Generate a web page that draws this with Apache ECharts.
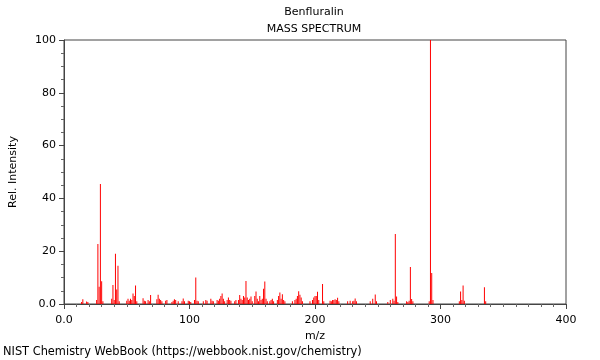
<!DOCTYPE html>
<html>
<head>
<meta charset="utf-8">
<script src="https://cdn.jsdelivr.net/npm/echarts@6/dist/echarts.min.js"></script>
<style>html,body{margin:0;padding:0;background:#fff}#c{width:600px;height:360px}</style>
</head>
<body>
<div id="c"></div>
<script>
const titleText = "Benfluralin";
const subtitleText = "MASS SPECTRUM";
const footerText = "NIST Chemistry WebBook (https://webbook.nist.gov/chemistry)";
const xName = "m/z";
const yName = "Rel. Intensity";

const mz = [14,15,18,19,26,27,28,29,30,31,38,39,40,41,42,43,44,50,51,52,53,54,55,56,57,58,
  63,64,65,67,68,69,74,75,76,77,78,81,82,86,87,88,89,91,94,95,96,99,100,101,104,105,106,107,
  111,113,114,117,118,119,122,123,124,125,126,127,128,130,131,132,133,136,137,139,140,141,142,
  143,144,145,146,147,148,149,150,152,153,154,155,156,157,158,159,160,161,162,164,165,166,167,
  170,171,172,173,174,175,176,182,184,185,186,187,188,189,190,196,198,199,200,201,202,203,206,
  207,212,213,214,215,216,217,218,219,226,228,230,231,232,233,244,246,248,249,258,260,262,263,
  264,265,266,273,274,275,276,277,278,291,292,293,294,315,316,317,318,319,335,336];
const intensity = [0.8,1.8,0.9,0.8,1.5,22.7,6.5,45.5,8.6,1.0,2.0,7.2,1.5,19.0,5.5,14.5,1.0,1.2,2.0,1.2,2.0,1.5,4.0,3.0,7.0,1.0,
  2.2,1.2,1.0,1.5,1.0,3.4,1.8,3.5,2.0,1.5,1.0,1.2,1.5,0.8,1.2,1.8,1.5,1.0,1.0,2.1,1.0,1.2,1.0,0.8,1.5,10.0,1.2,1.0,
  1.0,1.5,1.2,2.0,1.2,1.0,1.5,1.2,2.0,3.0,4.0,2.0,1.0,1.5,2.5,1.5,1.2,1.0,1.5,1.5,3.4,2.0,1.5,
  3.0,2.5,8.7,2.5,1.5,2.0,2.8,1.0,3.0,4.7,2.0,1.0,3.0,1.5,2.0,5.8,8.5,2.0,1.0,1.0,1.5,2.0,1.0,
  1.5,3.0,4.4,2.0,3.7,1.5,1.0,1.0,1.5,2.0,3.0,4.8,3.5,2.5,1.0,1.0,1.5,2.5,3.0,3.0,4.6,1.5,7.6,
  1.0,1.2,1.0,1.5,1.5,1.8,1.5,2.4,1.0,1.0,1.2,1.0,1.2,2.1,1.0,1.0,2.0,3.6,1.0,0.8,1.5,2.0,1.2,
  26.5,2.8,0.8,1.0,0.8,1.2,14.0,1.9,1.0,1.0,100,11.7,1.5,1.0,4.7,1.5,7.0,1.2,6.3,1.0];

const xMin = 0, xMax = 400, xStep = 100;
const yMin = 0, yMax = 100, yStep = 20;

const font = "DejaVu Sans";
const chart = echarts.init(document.getElementById('c'), null, {renderer: 'canvas'});
const fmt = v => v === 0 ? '0.0' : String(v);

chart.setOption({
  animation: false,
  textStyle: {fontFamily: font},
  tooltip: {show: false},
  grid: {left: 62, right: 34, top: 40, bottom: 56, show: true, borderColor: '#444', borderWidth: 1, backgroundColor: 'transparent'},
  xAxis: {
    type: 'value', min: xMin, max: xMax, interval: xStep,
    name: xName, nameLocation: 'middle', nameGap: 22,
    nameTextStyle: {fontFamily: font, fontSize: 11, color: '#000'},
    axisLine: {show: true, lineStyle: {color: '#444'}},
    axisTick: {show: true, length: 5, lineStyle: {color: '#444'}},
    minorTick: {show: true, splitNumber: 10, length: 3, lineStyle: {color: '#666'}},
    splitLine: {show: false},
    axisLabel: {formatter: fmt, fontFamily: font, fontSize: 11, color: '#000', margin: 11}
  },
  yAxis: {
    type: 'value', min: yMin, max: yMax, interval: yStep,
    name: yName, nameLocation: 'middle', nameGap: 45,
    nameTextStyle: {fontFamily: font, fontSize: 11, color: '#000'},
    axisLine: {show: true, lineStyle: {color: '#444'}},
    axisTick: {show: true, length: 5, lineStyle: {color: '#444'}},
    minorTick: {show: true, splitNumber: 4, length: 3, lineStyle: {color: '#666'}},
    splitLine: {show: false},
    axisLabel: {formatter: fmt, fontFamily: font, fontSize: 11, color: '#000', margin: 8}
  },
  graphic: [
    {type: 'text', x: 314, y: 7, silent: true, style: {text: titleText, font: '11px "DejaVu Sans"', fill: '#000', textAlign: 'center'}},
    {type: 'text', x: 314, y: 24, silent: true, style: {text: subtitleText, font: '11px "DejaVu Sans"', fill: '#000', textAlign: 'center'}},
    {type: 'text', x: 3, y: 347, silent: true, style: {text: footerText, font: '11.4px "DejaVu Sans"', fill: '#000'}}
  ],
  series: [{
    type: 'bar',
    barWidth: 1,
    silent: true,
    emphasis: {disabled: true},
    itemStyle: {color: '#ff0000'},
    data: mz.map((m, i) => [m, intensity[i]])
  }]
});
</script>
</body>
</html>
